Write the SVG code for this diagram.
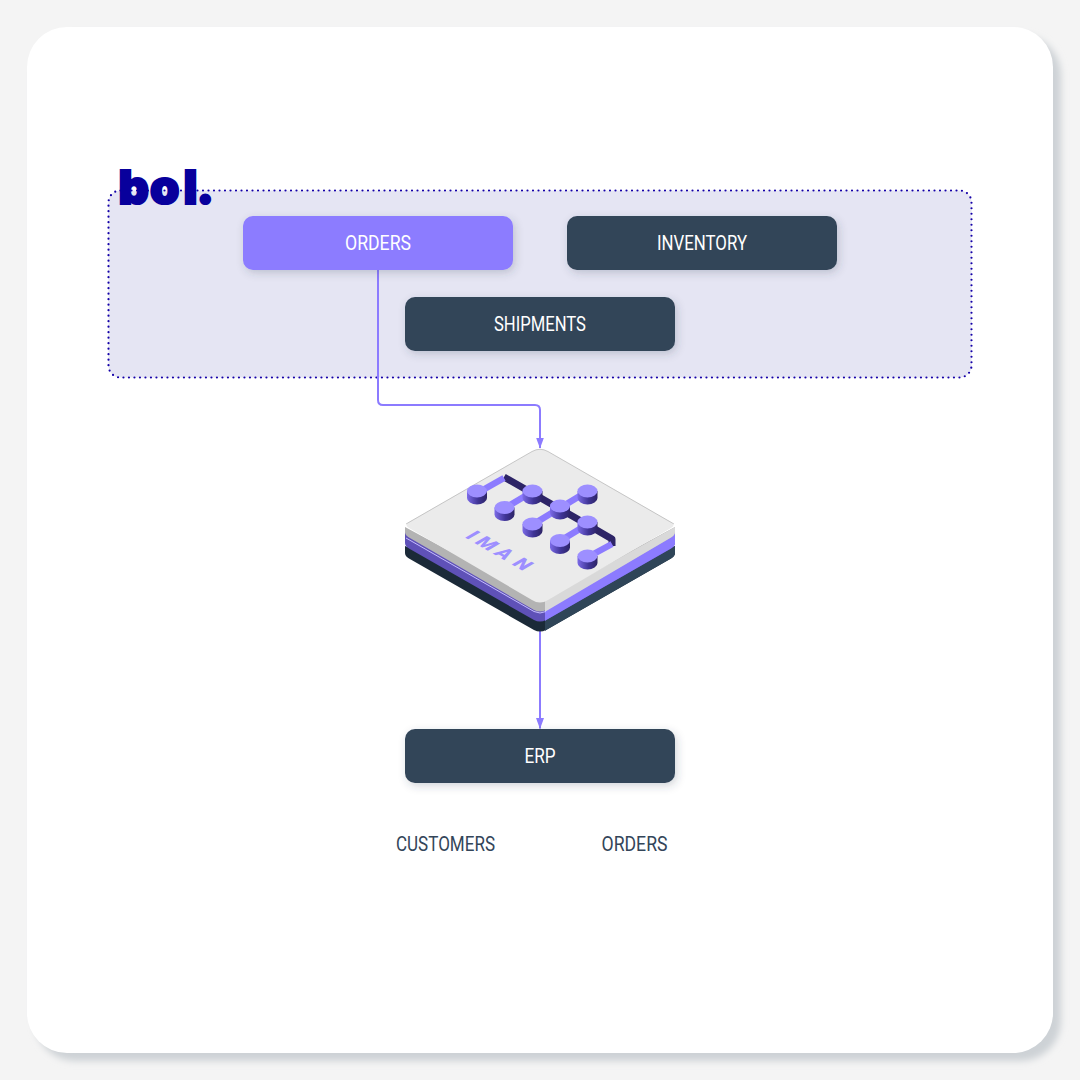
<svg xmlns="http://www.w3.org/2000/svg" width="1080" height="1080" viewBox="0 0 1080 1080">
<style>
.box{filter:url(#bs)}
.lbl{font-family:"Roboto","Liberation Sans",sans-serif;font-size:20px;fill:#fff;text-anchor:middle}
.out{font-family:"Roboto","Liberation Sans",sans-serif;font-size:20px;fill:#334559;text-anchor:middle}
.dark{fill:#334559}
.conn{fill:none;stroke:#8c7bff;stroke-width:2}
.ct{fill:#9d8fff}.cs{fill:url(#cyl)}
</style>
<defs>
<filter id="card" x="-5%" y="-5%" width="112%" height="112%"><feGaussianBlur stdDeviation="3.500"/></filter>
<filter id="bs" x="-10%" y="-30%" width="120%" height="170%"><feDropShadow dx="2" dy="3" stdDeviation="4" flood-color="#334559" flood-opacity=".22"/></filter>
<linearGradient id="cyl" x1="0" x2="1" y1="0" y2="0"><stop offset="0" stop-color="#7c6be8"/><stop offset=".55" stop-color="#3f3496"/><stop offset="1" stop-color="#2d2466"/></linearGradient>
<marker id="arr" markerUnits="userSpaceOnUse" markerWidth="11" markerHeight="9" refX="10.500" refY="4" orient="auto"><path d="M0 0L11 4L0 8z" fill="#8c7bff"/></marker>
</defs>
<rect width="1080" height="1080" fill="#f4f4f4"/>
<rect x="35" y="35" width="1026" height="1026" rx="40" fill="#cdd2d6" filter="url(#card)"/>
<rect x="27" y="27" width="1026" height="1026" rx="40" fill="#fff"/>

<g id="bol-group">
<rect x="108.500" y="190.500" width="863" height="187" rx="12" fill="#e5e5f3" stroke="#1400a8" stroke-width="2.200" stroke-linecap="round" stroke-dasharray="0 5.500"/>
</g>
<g id="bol-logo"><text x="118.500 150 183.500 196.500" y="204" font-family="Inter,'Liberation Sans',sans-serif" font-weight="900" font-size="47" fill="#08009c" stroke="#08009c" stroke-width="2.200">bol.</text></g>

<g id="connectors">
<path class="conn" d="M378 270V400Q378 405 383 405H535Q540 405 540 410V448" marker-end="url(#arr)"/>
<path class="conn" d="M540 628V728.500" marker-end="url(#arr)"/>
</g>

<g id="orders"><rect class="box" x="243" y="216" width="270" height="54" rx="10" fill="#8c7bff"/><text class="lbl" x="378" y="250" textLength="66" lengthAdjust="spacingAndGlyphs">ORDERS</text></g>
<g id="inventory"><rect class="box dark" x="567" y="216" width="270" height="54" rx="10"/><text class="lbl" x="702" y="250" textLength="90" lengthAdjust="spacingAndGlyphs">INVENTORY</text></g>
<g id="shipments"><rect class="box dark" x="405" y="297" width="270" height="54" rx="10"/><text class="lbl" x="540" y="331" textLength="92" lengthAdjust="spacingAndGlyphs">SHIPMENTS</text></g>

<g id="iman">
<path d="M405 546V553Q405 556 409 558.500L534 630Q540 633 546 630L671 558.500Q675 556 675 553V546L540 600z" fill="#1b2a38"/>
<path d="M545 631V608L675 546V553Q675 556 671 558.500L548 629Q546 630 545 631z" fill="#2f4558"/>
<path d="M405 532V543Q405 546 409 548.500L534 620Q540 623 546 620L671 548.500Q675 546 675 543V532L540 600z" fill="#5f51b8"/>
<path d="M545 621V606L675 532V543Q675 546 671 548.500L548 619Q546 620 545 621z" fill="#8c7bff"/>
<path d="M405 527V532Q405 535 409 537.500L534 610Q540 613 546 610L671 537.500Q675 535 675 532V527L540 600z" fill="#b3b3b3"/>
<path d="M545 612V600L675 527V532Q675 535 671 537.500L548 610Q546 611 545 612z" fill="#d9d9d9"/>
<path d="M406 538L534 611.500Q540 614.500 546 611.500" fill="none" stroke="#c4bcff" stroke-width="1"/>
<path d="M532 451.500Q540 447 548 451.500L671 522Q676 525 671 528L548 600Q540 605 532 600L409 528Q404 525 409 522z" fill="#ebebeb"/>
<path d="M406 524L532 451.500Q540 447 548 451.500L674 524" fill="none" stroke="#a8a8a8" stroke-width=".6"/>
<g fill="none" stroke-linejoin="round">
<path d="M504 477L532 493L560 509L588 525L612 539V546" stroke="#2d2466" stroke-width="7"/>
<path d="M481 491L504 478M505 508L532 492M532 525L560 508M560 541L588 524M560 508L588 491M588 557L612 544" stroke="#8c7bff" stroke-width="6.500"/>
</g>
<g id="cyls">
<g><path class="cs" d="M467 491v7a10 6.500 0 0 0 20 0v-7z"/><ellipse class="ct" cx="477" cy="491" rx="10" ry="6.500"/></g>
<g><path class="cs" d="M522.500 491v7a10 6.500 0 0 0 20 0v-7z"/><ellipse class="ct" cx="532.500" cy="491" rx="10" ry="6.500"/></g>
<g><path class="cs" d="M577.500 491v7a10 6.500 0 0 0 20 0v-7z"/><ellipse class="ct" cx="587.500" cy="491" rx="10" ry="6.500"/></g>
<g><path class="cs" d="M494.500 507.500v7a10 6.500 0 0 0 20 0v-7z"/><ellipse class="ct" cx="504.500" cy="507.500" rx="10" ry="6.500"/></g>
<g><path class="cs" d="M550 506v7a10 6.500 0 0 0 20 0v-7z"/><ellipse class="ct" cx="560" cy="506" rx="10" ry="6.500"/></g>
<g><path class="cs" d="M522.500 524v7a10 6.500 0 0 0 20 0v-7z"/><ellipse class="ct" cx="532.500" cy="524" rx="10" ry="6.500"/></g>
<g><path class="cs" d="M577.500 522v7a10 6.500 0 0 0 20 0v-7z"/><ellipse class="ct" cx="587.500" cy="522" rx="10" ry="6.500"/></g>
<g><path class="cs" d="M550 540.500v7a10 6.500 0 0 0 20 0v-7z"/><ellipse class="ct" cx="560" cy="540.500" rx="10" ry="6.500"/></g>
<g><path class="cs" d="M577.500 556v7a10 6.500 0 0 0 20 0v-7z"/><ellipse class="ct" cx="587.500" cy="556" rx="10" ry="6.500"/></g>
</g>
<text transform="matrix(.866 .5 -.866 .5 464 537)" x="0 11 33 54" y="0" font-family="Roboto,'Liberation Sans',sans-serif" font-weight="900" font-size="20" fill="#9d8fff">IMAN</text>
</g>

<g id="erp"><rect class="box dark" x="405" y="729" width="270" height="54" rx="10"/><text class="lbl" x="540" y="763" textLength="31" lengthAdjust="spacingAndGlyphs">ERP</text></g>
<g id="customers-label"><text class="out" x="445.500" y="851" textLength="99" lengthAdjust="spacingAndGlyphs">CUSTOMERS</text></g>
<g id="orders-label"><text class="out" x="634.500" y="851" textLength="66" lengthAdjust="spacingAndGlyphs">ORDERS</text></g>
</svg>
